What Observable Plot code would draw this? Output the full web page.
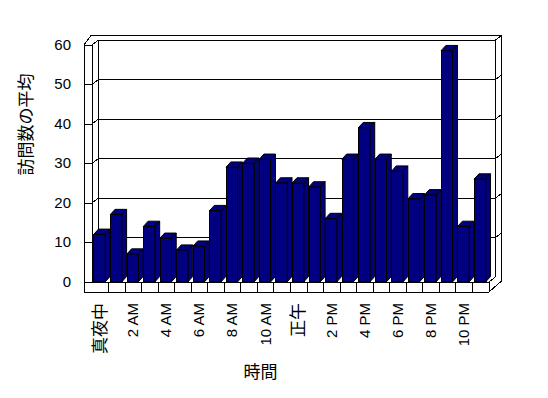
<!DOCTYPE html>
<html>
<head>
<meta charset="utf-8">
<script src="https://cdn.jsdelivr.net/npm/d3@7"></script>
<script src="https://cdn.jsdelivr.net/npm/@observablehq/plot@0.6"></script>
<style>
  html, body { margin: 0; padding: 0; background: #fff; }
  svg { display: block; }
</style>
</head>
<body>
<div id="chart"></div>
<script>
// ---- data ----
const hours = [0,1,2,3,4,5,6,7,8,9,10,11,12,13,14,15,16,17,18,19,20,21,22,23];
const visits = [12,17,7,14,11,8,9,18,29,30,31,25,25,24,16,31,39,31,28,21,22,58.5,14,26];
const tickHours = [0,2,4,6,8,10,12,14,16,18,20,22];
const tickLabels = ["真夜中","2 AM","4 AM","6 AM","8 AM","10 AM","正午","2 PM","4 PM","6 PM","8 PM","10 PM"];
const yTicks = [0,10,20,30,40,50,60];
const yTitle = "訪問数の平均";
const xTitle = "時間";

// ---- layout ----
const W = 548, H = 398;
const L = 91.5, R = 488.5, T = 44.5, B = 281.5;
const xDom = [-0.5, 23.5], yDom = [0, 60];
const ux = (xDom[1] - xDom[0]) / (R - L);   // data units per px
const uy = (yDom[1] - yDom[0]) / (B - T);
const toX = px => xDom[0] + (px - L) * ux;
const toY = py => (B - py) * uy;

const navy = "#000080";
const half = 0.35;            // half bar width (x units)
const bdx = 4.5 * ux;         // bar depth offset
const bdy = 5 * uy;

const bars = hours.map((h, i) => ({h, v: visits[i]}));
const topFaces = bars.flatMap(d => [
  {id: d.h, y: d.v, x1: d.h - half, x2: d.h + half},
  {id: d.h, y: d.v + bdy, x1: d.h - half + bdx, x2: d.h + half + bdx}
]);
const sideFaces = bars.flatMap(d => [
  {id: d.h, x: d.h + half, y1: 0, y2: d.v},
  {id: d.h, x: d.h + half + bdx, y1: bdy, y2: d.v + bdy}
]);

// frame / wall segments in pixels, derived from the plot box
const slab = 8, floorH = 10, Dx = 6, Dy = -4.6, Ox = 12.5, Oy = -9.5;
const seg = [];
const S = (x1, y1, x2, y2) => seg.push({x1: toX(x1), y1: toY(y1), x2: toX(x2), y2: toY(y2)});
S(L - slab, T, L - slab, B + floorH);
S(L, T, L, B);
S(L - slab, T, L, T);
S(L - slab, B + floorH, R, B + floorH);
S(L, B, R, B);
S(R, B, R, B + floorH);
S(R, B + floorH, R + Ox, B - 1);
S(R, B, R + Dx, B + Dy);
S(L + Dx, T + Dy, L + Dx, B + Dy);
S(R + Dx, T + Dy, R + Dx, B + Dy);
S(L - slab, T, L - 1, T + Oy);
S(L - 1, T + Oy, R + Ox, T + Oy);
S(R + Ox, T + Oy, R + Ox, B - 1);
const step = (R - L) / hours.length;
for (let k = 1; k < hours.length; k++) S(L + k * step, B, L + k * step, B + floorH);
const grid = [];
for (const v of yTicks) {
  const y = B - v / uy;
  grid.push({x1: toX(L - slab), y1: toY(y), x2: toX(L), y2: toY(y)});
  grid.push({x1: toX(L), y1: toY(y), x2: toX(L + Dx), y2: toY(y + Dy)});
  if (v > 0) {
    grid.push({x1: toX(L + Dx), y1: toY(y + Dy), x2: toX(R + Dx), y2: toY(y + Dy)});
    grid.push({x1: toX(R + Dx), y1: toY(y + Dy), x2: toX(R + Ox), y2: toY(y + Oy)});
  }
}

const font = "'Liberation Sans', Arial, 'Noto Sans CJK JP', sans-serif";
const isCJK = s => /[^\x00-\x7F]/.test(s);
const xTickData = tickHours.map((h, i) => ({h, label: tickLabels[i]}));

const chart = Plot.plot({
  width: W, height: H,
  marginLeft: L, marginRight: W - R, marginTop: T, marginBottom: H - B,
  x: {type: "linear", domain: xDom, axis: null},
  y: {type: "linear", domain: yDom, axis: null},
  style: {fontFamily: font, background: "#fff", overflow: "visible"},
  marks: [
    Plot.link(grid, {x1: "x1", y1: "y1", x2: "x2", y2: "y2", stroke: "#000", strokeWidth: 1, shapeRendering: "crispEdges"}),
    Plot.link(seg, {x1: "x1", y1: "y1", x2: "x2", y2: "y2", stroke: "#000", strokeWidth: 1, shapeRendering: "crispEdges"}),
    Plot.rect(bars, {x1: d => d.h - half, x2: d => d.h + half, y1: 0, y2: "v", fill: navy, stroke: "#000", strokeWidth: 1, shapeRendering: "crispEdges"}),
    Plot.areaX(topFaces, {y: "y", x1: "x1", x2: "x2", z: "id", fill: navy, stroke: "#000", strokeWidth: 1}),
    Plot.areaY(sideFaces, {x: "x", y1: "y1", y2: "y2", z: "id", fill: navy, stroke: "#000", strokeWidth: 1}),
    Plot.text(yTicks, {x: xDom[0], y: d => d, text: d => String(d), dx: -21, textAnchor: "end", fontSize: 15, fill: "#000"}),
    Plot.text(xTickData, {x: "h", y: 0, text: "label", dy: 21, rotate: -90, textAnchor: "end",
      fontSize: d => isCJK(d.label) ? 17 : 15, fill: "#000"}),
    Plot.text([yTitle], {frameAnchor: "left", dx: -65.5, dy: 12, rotate: -90, fontSize: 17, fill: "#000"}),
    Plot.text([xTitle], {frameAnchor: "bottom", dx: -30, dy: 95.5, fontSize: 17, fill: "#000"})
  ]
});
document.getElementById("chart").appendChild(chart);
</script>
</body>
</html>
